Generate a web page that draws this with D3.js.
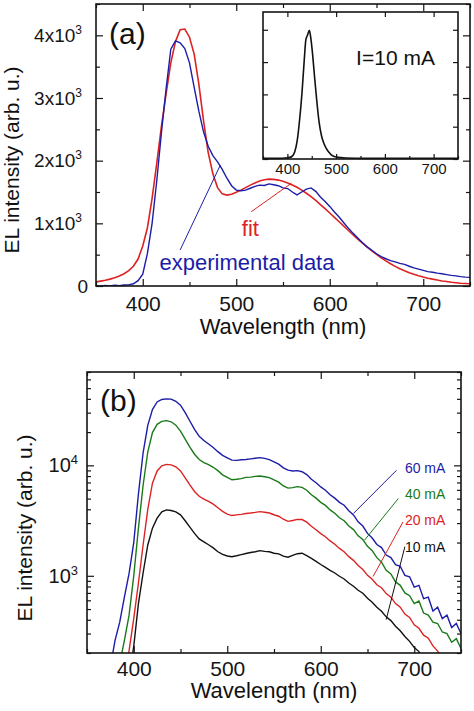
<!DOCTYPE html>
<html><head><meta charset="utf-8">
<script src="https://cdn.jsdelivr.net/npm/d3@7"></script>
<style>
body{margin:0;background:#fff;}
svg text{font-family:Arial,"Liberation Sans",sans-serif;}
</style></head><body>
<svg id="c" width="474" height="711"></svg>
<script>
// ---------------- DATA ----------------
const wavelength = [350,355,360,365,370,375,380,385,390,395,400,405,410,415,420,425,430,435,440,445,450,455,460,465,470,475,480,485,490,495,500,505,510,515,520,525,530,535,540,545,550,555,560,565,570,575,580,585,590,595,600,605,610,615,620,625,630,635,640,645,650,655,660,665,670,675,680,685,690,695,700,705,710,715,720,725,730,735,740,745,750];

// panel (a): experimental spectrum at 10 mA and its fit (linear scale)
const expData10mA = [10,-5,8,0,12,4,15,18,35,85,190,520,1000,1680,2450,3150,3780,3910,3880,3790,3560,3170,2790,2460,2230,2080,1980,1860,1720,1600,1530,1520,1530,1560,1590,1610,1605,1630,1615,1600,1565,1555,1500,1455,1500,1545,1565,1510,1420,1350,1270,1180,1100,1010,920,840,765,690,625,570,515,470,435,405,385,360,345,315,290,270,250,230,220,205,195,182,170,162,150,142,138];
const fitData = [65,78,92,110,132,160,195,245,315,430,640,930,1400,1960,2550,3070,3560,3900,4090,4100,3970,3700,3220,2640,2130,1790,1570,1470,1450,1465,1495,1530,1570,1610,1645,1675,1695,1705,1702,1690,1670,1645,1612,1575,1530,1480,1425,1365,1300,1235,1165,1095,1025,955,885,815,748,683,620,560,503,450,400,355,313,276,243,213,186,163,143,125,110,97,80,72,60,52,45,40,35];

// inset: blue LED chip spectrum, I = 10 mA
const insetWavelength = [350,380,400,405,410,415,420,425,430,435,438,441,445,448,452,456,460,465,470,475,480,490,500,520,560,650,750];
const insetIntensity = [0.02,0.02,0.04,0.05,0.09,0.22,0.55,1.2,2.05,3.15,3.7,3.82,3.98,3.75,3.2,2.5,1.85,1.15,0.72,0.48,0.32,0.13,0.06,0.03,0.02,0.02,0.02];

// panel (b): spectra at several currents (log scale)
const currents = ["60 mA","40 mA","20 mA","10 mA"];
const spec60mA = [100,100,100,100,100,150,260,380,640,1050,2000,5500,13000,23000,32000,37500,39500,40000,39800,38000,35000,30000,25200,21200,18300,16800,15600,14500,13300,12300,11700,11150,11100,11250,11300,11450,11600,11750,11550,11250,10750,10250,9500,9050,8900,8950,8750,8250,7480,6950,6380,5950,5420,5050,4620,4350,3880,3560,3080,2820,2420,2200,1920,1800,1540,1460,1260,1220,1010,980,790,820,620,640,480,520,410,440,340,370,300];
const spec40mA = [100,100,100,100,100,100,100,160,260,440,1000,2700,6600,13200,19800,23500,25000,25400,24800,23100,20400,17300,14600,12600,11300,10600,10150,9600,8950,8200,7800,7400,7480,7580,7780,7820,7950,8000,7880,7750,7380,7050,6500,6220,6280,6420,6320,5950,5420,5050,4620,4340,3950,3680,3350,3150,2820,2620,2300,2130,1850,1690,1460,1330,1120,1040,880,820,700,660,560,590,460,440,380,370,310,300,250,270,220];
const spec20mA = [100,100,100,100,100,100,100,100,130,210,410,860,1900,4000,6900,8900,9900,10200,10100,9700,8900,7700,6650,5800,5250,4950,4720,4450,4130,3830,3620,3510,3560,3600,3660,3700,3750,3810,3760,3700,3570,3460,3250,3110,3170,3240,3230,3060,2810,2610,2410,2260,2070,1930,1770,1650,1490,1380,1240,1140,1010,930,830,780,690,640,560,520,450,420,360,335,290,272,232,208,180,160,140,130,120];
const spec10mA = [100,100,100,100,100,100,100,100,100,120,230,560,1060,1900,2700,3330,3790,3950,3900,3790,3560,3150,2760,2420,2160,2030,1910,1790,1650,1560,1510,1490,1520,1555,1590,1625,1650,1690,1665,1650,1600,1580,1505,1475,1530,1585,1600,1520,1440,1350,1265,1190,1120,1060,990,935,860,805,740,695,625,575,520,478,425,393,350,318,282,255,224,206,170,150,130,110,100,95,90,85,80];

// axis ticks
const xMajorTicks = [400,500,600,700];
const xMinorTicks = [350,450,550,650,750];
const yMajorTicksA = [0,1000,2000,3000,4000];
const yMinorTicksA = [500,1500,2500,3500,4500];
const insetYTicks = [0,1,2,3,4];
const yMajorTicksB = [1000,10000];
const yMinorTicksB = [200,300,400,500,600,700,800,900,2000,3000,4000,5000,6000,7000,8000,9000,20000,30000,40000,50000,60000,70000];

// annotations (data coordinates)
const annotA = [
  {text:"experimental data", color:"#1c1ca8", tx:418, ty:250, x1:440, y1:575, x2:483, y2:1930},
  {text:"fit", color:"#dc2323", tx:506, ty:795, x1:516, y1:1185, x2:559, y2:1640}
];
const annotB = [
  {text:"60 mA", color:"#1c1ca8", tx:690, ty:8500, x1:681, y1:9020, x2:635, y2:3670},
  {text:"40 mA", color:"#1a7a1a", tx:690, ty:4950, x1:683, y1:5010, x2:647, y2:2110},
  {text:"20 mA", color:"#dc2323", tx:690, ty:2880, x1:688, y1:3080, x2:656, y2:986},
  {text:"10 mA", color:"#111111", tx:690, ty:1650, x1:690, y1:1836, x2:670, y2:402}
];

// ---------------- DRAW ----------------
const svg = d3.select('#c');
const INK = '#151515';

function styleAxis(g, fs){
  g.select('.domain').remove();
  g.attr('color', INK).attr('font-family','Arial, "Liberation Sans", sans-serif').attr('font-size', fs);
  g.selectAll('line').attr('stroke-width',1.2);
}

function frame(P){
  svg.append('rect').attr('x',P.l).attr('y',P.t).attr('width',P.r-P.l).attr('height',P.b-P.t)
    .attr('fill','none').attr('stroke',INK).attr('stroke-width',1.6);
}

// ===== Panel (a) =====
const A = {l:96, r:470, t:4, b:286};
const xA = d3.scaleLinear().domain([350,750]).range([A.l,A.r]);
const yA = d3.scaleLinear().domain([0,4500]).range([A.b,A.t]);

svg.append('clipPath').attr('id','clipA').append('rect').attr('x',A.l).attr('y',A.t).attr('width',A.r-A.l).attr('height',A.b-A.t);

const lineA = (vals) => d3.line().x((d,i)=>xA(wavelength[i])).y(d=>yA(d))(vals);
const gA = svg.append('g').attr('clip-path','url(#clipA)');
gA.append('path').attr('d',lineA(fitData)).attr('fill','none').attr('stroke','#dc2323').attr('stroke-width',1.6);
gA.append('path').attr('d',lineA(expData10mA)).attr('fill','none').attr('stroke','#1c1ca8').attr('stroke-width',1.4);

// axes a
let g;
g = svg.append('g').attr('transform',`translate(0,${A.b})`).call(d3.axisBottom(xA).tickValues(xMajorTicks).tickSize(-7).tickPadding(10).tickFormat(d3.format('d')));
styleAxis(g,21);
g = svg.append('g').attr('transform',`translate(0,${A.b})`).call(d3.axisBottom(xA).tickValues(xMinorTicks).tickSize(-4).tickFormat(''));
styleAxis(g,21);
g = svg.append('g').attr('transform',`translate(0,${A.t})`).call(d3.axisTop(xA).tickValues(xMajorTicks).tickSize(-7).tickFormat(''));
styleAxis(g,21);
g = svg.append('g').attr('transform',`translate(0,${A.t})`).call(d3.axisTop(xA).tickValues(xMinorTicks).tickSize(-4).tickFormat(''));
styleAxis(g,21);
g = svg.append('g').attr('transform',`translate(${A.l},0)`).call(d3.axisLeft(yA).tickValues(yMajorTicksA).tickSize(-7).tickPadding(8).tickFormat(d=>d===0?'0':''));
styleAxis(g,19);
g.selectAll('.tick text').each(function(d){
  if(d===0) return;
  const t = d3.select(this).attr('x',-14);
  t.append('tspan').text((d/1000)+'x10');
  t.append('tspan').attr('font-size',12).attr('dy',-8).text('3');
});
g = svg.append('g').attr('transform',`translate(${A.l},0)`).call(d3.axisLeft(yA).tickValues(yMinorTicksA).tickSize(-4).tickFormat(''));
styleAxis(g,19);
g = svg.append('g').attr('transform',`translate(${A.r},0)`).call(d3.axisRight(yA).tickValues(yMajorTicksA).tickSize(-7).tickFormat(''));
styleAxis(g,19);
g = svg.append('g').attr('transform',`translate(${A.r},0)`).call(d3.axisRight(yA).tickValues(yMinorTicksA).tickSize(-4).tickFormat(''));
styleAxis(g,19);

// annotations a
annotA.forEach(a=>{
  svg.append('line').attr('x1',xA(a.x1)).attr('y1',yA(a.y1)).attr('x2',xA(a.x2)).attr('y2',yA(a.y2))
    .attr('stroke',a.color).attr('stroke-width',1);
  svg.append('text').attr('x',xA(a.tx)).attr('y',yA(a.ty)).attr('fill',a.color).attr('font-size',22).text(a.text);
});

// ----- inset -----
const I = {l:263, r:458, t:12, b:159};
const xI = d3.scaleLinear().domain([350,750]).range([I.l,I.r]);
const yI = d3.scaleLinear().domain([0,4.55]).range([I.b,I.t]);
svg.append('rect').attr('x',I.l).attr('y',I.t).attr('width',I.r-I.l).attr('height',I.b-I.t).attr('fill','#fff');
svg.append('path').attr('d',d3.line().x((d,i)=>xI(insetWavelength[i])).y(d=>yI(d)).curve(d3.curveMonotoneX)(insetIntensity))
  .attr('fill','none').attr('stroke','#111').attr('stroke-width',1.6);
g = svg.append('g').attr('transform',`translate(0,${I.b})`).call(d3.axisBottom(xI).tickValues(xMajorTicks).tickSize(-5).tickPadding(4).tickFormat(d3.format('d')));
styleAxis(g,15);
g = svg.append('g').attr('transform',`translate(0,${I.b})`).call(d3.axisBottom(xI).tickValues(xMinorTicks).tickSize(-3).tickFormat(''));
styleAxis(g,15);
g = svg.append('g').attr('transform',`translate(0,${I.t})`).call(d3.axisTop(xI).tickValues(xMajorTicks).tickSize(-5).tickFormat(''));
styleAxis(g,15);
g = svg.append('g').attr('transform',`translate(${I.l},0)`).call(d3.axisLeft(yI).tickValues(insetYTicks).tickSize(-5).tickFormat(''));
styleAxis(g,15);
g = svg.append('g').attr('transform',`translate(${I.r},0)`).call(d3.axisRight(yI).tickValues(insetYTicks).tickSize(-5).tickFormat(''));
styleAxis(g,15);
frame(I);
svg.append('text').attr('x',xI(541)).attr('y',yI(2.92)).attr('font-size',21).attr('fill','#111').text('I=10 mA');

frame(A);
svg.append('text').attr('x',A.l+13).attr('y',A.t+40).attr('font-size',30).attr('fill','#111').text('(a)');
svg.append('text').attr('x',(A.l+A.r)/2).attr('y',A.b+48).attr('text-anchor','middle').attr('font-size',22).attr('fill','#111').text('Wavelength (nm)');
svg.append('text').attr('transform',`translate(19,160) rotate(-90)`).attr('text-anchor','middle').attr('font-size',21).attr('fill','#111').text('EL intensity (arb. u.)');

// ===== Panel (b) =====
const B = {l:87, r:461, t:372, b:653};
const xB = d3.scaleLinear().domain([350,750]).range([B.l,B.r]);
const yB = d3.scaleLog().domain([200,70000]).range([B.b,B.t]);
svg.append('clipPath').attr('id','clipB').append('rect').attr('x',B.l).attr('y',B.t).attr('width',B.r-B.l).attr('height',B.b-B.t);
const gB = svg.append('g').attr('clip-path','url(#clipB)');
const lineB = (vals) => d3.line().x((d,i)=>xB(wavelength[i])).y(d=>yB(d))(vals);
const seriesB = [
  {vals:spec10mA, color:'#111111'},
  {vals:spec20mA, color:'#dc2323'},
  {vals:spec40mA, color:'#1a7a1a'},
  {vals:spec60mA, color:'#1c1ca8'}
];
seriesB.forEach(s=>{
  gB.append('path').attr('d',lineB(s.vals)).attr('fill','none').attr('stroke',s.color).attr('stroke-width',1.4);
});

g = svg.append('g').attr('transform',`translate(0,${B.b})`).call(d3.axisBottom(xB).tickValues(xMajorTicks).tickSize(-7).tickPadding(8).tickFormat(d3.format('d')));
styleAxis(g,21);
g = svg.append('g').attr('transform',`translate(0,${B.b})`).call(d3.axisBottom(xB).tickValues(xMinorTicks).tickSize(-4).tickFormat(''));
styleAxis(g,21);
g = svg.append('g').attr('transform',`translate(0,${B.t})`).call(d3.axisTop(xB).tickValues(xMajorTicks).tickSize(-7).tickFormat(''));
styleAxis(g,21);
g = svg.append('g').attr('transform',`translate(0,${B.t})`).call(d3.axisTop(xB).tickValues(xMinorTicks).tickSize(-4).tickFormat(''));
styleAxis(g,21);
g = svg.append('g').attr('transform',`translate(${B.l},0)`).call(d3.axisLeft(yB).tickValues(yMajorTicksB).tickSize(-7).tickPadding(9).tickFormat(''));
styleAxis(g,20);
g.selectAll('.tick text').each(function(d){
  const t = d3.select(this);
  t.append('tspan').text('10');
  t.append('tspan').attr('font-size',13).attr('dy',-8).text(String(Math.round(Math.log10(d))));
});
g = svg.append('g').attr('transform',`translate(${B.l},0)`).call(d3.axisLeft(yB).tickValues(yMinorTicksB).tickSize(-4).tickFormat(''));
styleAxis(g,20);
g = svg.append('g').attr('transform',`translate(${B.r},0)`).call(d3.axisRight(yB).tickValues(yMajorTicksB).tickSize(-7).tickFormat(''));
styleAxis(g,20);
g = svg.append('g').attr('transform',`translate(${B.r},0)`).call(d3.axisRight(yB).tickValues(yMinorTicksB).tickSize(-4).tickFormat(''));
styleAxis(g,20);
frame(B);

annotB.forEach((a,i)=>{
  svg.append('line').attr('x1',xB(a.x1)).attr('y1',yB(a.y1)).attr('x2',xB(a.x2)).attr('y2',yB(a.y2))
    .attr('stroke',a.color).attr('stroke-width',1);
  svg.append('text').attr('x',xB(a.tx)).attr('y',yB(a.ty)).attr('fill',a.color).attr('font-size',14).text(currents[i]);
});

svg.append('text').attr('x',B.l+13).attr('y',B.t+39).attr('font-size',30).attr('fill','#111').text('(b)');
svg.append('text').attr('x',(B.l+B.r)/2).attr('y',B.b+45).attr('text-anchor','middle').attr('font-size',22).attr('fill','#111').text('Wavelength (nm)');
svg.append('text').attr('transform',`translate(32,528) rotate(-90)`).attr('text-anchor','middle').attr('font-size',21).attr('fill','#111').text('EL intensity (arb. u.)');
</script>
</body></html>
